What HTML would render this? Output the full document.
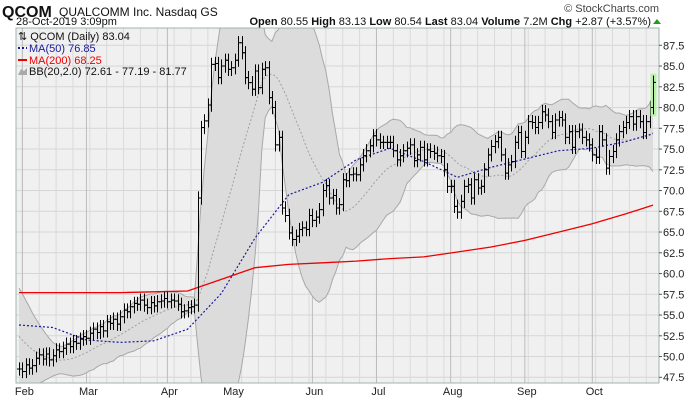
<!DOCTYPE html>
<html><head><meta charset="utf-8"><style>
html,body{margin:0;padding:0;background:#fff;width:700px;height:400px;overflow:hidden;font-family:"Liberation Sans",sans-serif}
svg{display:block;position:absolute;left:0;top:0}
svg text{font-family:"Liberation Sans",sans-serif}
</style></head><body>
<svg id="chart" width="700" height="400" viewBox="0 0 700 400" overflow="hidden" xmlns="http://www.w3.org/2000/svg">
<text x="2" y="17" font-size="16" font-weight="bold" fill="#111">QCOM</text>
<text x="59" y="16" font-size="12" fill="#111">QUALCOMM Inc.  Nasdaq GS</text>
<text x="16" y="25" font-size="11" fill="#111">28-Oct-2019 3:09pm</text>
<text x="659" y="12" font-size="11" fill="#444" text-anchor="end">© StockCharts.com</text>
<text x="651" y="25" font-size="11" fill="#111" text-anchor="end"><tspan font-weight="bold">Open</tspan> 80.55  <tspan font-weight="bold">High</tspan> 83.13  <tspan font-weight="bold">Low</tspan> 80.54  <tspan font-weight="bold">Last</tspan> 83.04  <tspan font-weight="bold">Volume</tspan> 7.2M  <tspan font-weight="bold">Chg</tspan> +2.87 (+3.57%)</text>
<path d="M653 24 L657 19 L661 24 Z" fill="#1aa01a"/>
<rect x="16" y="28" width="643" height="355" fill="#f0f0f0"/>
<g id="grid"></g><g id="bands"></g><g id="lines"></g><g id="bars"></g>
<rect x="16" y="28" width="643" height="355" fill="none" stroke="#9fb5ad" stroke-width="1"/>
<g id="yaxis"></g><g id="xaxis"></g>
<g font-size="11">
<text x="18" y="40" fill="#111">⇅ QCOM (Daily) 83.04</text>
<line x1="18" y1="48" x2="27" y2="48" stroke="#1a1a9a" stroke-width="2" stroke-dasharray="2,2"/>
<text x="29" y="52" fill="#1a1a9a">MA(50) 76.85</text>
<line x1="18" y1="60" x2="27" y2="60" stroke="#e00" stroke-width="2"/>
<text x="29" y="64" fill="#e00">MA(200) 68.25</text>
<path d="M18 75 L21 69 L24 71 L27 68 L27 75Z" fill="#aaa"/>
<text x="29" y="75" fill="#111">BB(20,2.0) 72.61 - 77.19 - 81.77</text>
</g>
</svg>
<script>
const closes=[48.5,48.2,49.0,48.6,48.9,49.8,50.2,49.7,50.3,49.6,50.1,50.8,50.6,51.0,51.5,51.2,51.8,51.6,52.1,52.4,52.2,52.8,53.3,52.9,53.6,53.1,54.2,54.0,54.5,53.9,54.8,55.6,55.4,56.0,56.4,56.3,56.8,56.2,55.9,56.5,56.1,56.6,56.7,57.0,56.6,56.8,56.7,56.3,55.4,55.5,55.9,56.0,56.2,
69.1,77.6,78.4,80.3,85.2,85.3,83.6,85.0,85.7,84.6,84.8,85.7,87.8,86.6,83.6,83.0,82.2,84.4,82.4,84.6,84.8,81.2,80.0,75.5,76.4,67.9,67.0,64.9,64.1,64.5,65.3,65.5,65.3,67.0,66.4,66.8,67.7,70.0,70.6,69.1,69.4,67.9,68.3,71.3,71.2,71.9,72.0,71.9,73.1,74.2,74.8,75.4,76.6,76.1,75.8,75.8,75.8,75.8,74.8,73.7,74.2,74.8,75.1,75.5,73.6,74.3,
75.2,73.7,74.9,74.7,74.5,74.2,74.1,72.5,70.5,70.5,68.1,67.4,68.7,70.5,70.7,69.1,71.3,70.3,70.5,72.5,74.3,75.3,75.9,76.4,74.3,72.1,73.1,73.5,75.8,77.0,74.7,76.4,78.3,78.2,77.6,78.2,79.5,79.1,78.3,77.0,78.5,78.8,78.5,76.4,77.1,75.2,77.1,77.3,76.4,76.1,75.5,74.3,74.0,77.1,76.1,72.7,74.1,74.7,76.1,77.1,77.6,78.2,78.9,78.0,78.9,78.3,77.0,78.3,80.0,83.04];
const priorCloses=[57.5,57.0,56.5,56.0,55.0,54.5,54.0,53.5,53.0,52.5,52.0,51.5,51.0,50.5,50.0,49.5,49.0,48.7,48.5];
const maIndex=[0,10,20,30,40,50,60,70,80,90,100,110,120,130,140,150,160,170,180,188];
const ma50Values=[53.8,53.5,52.0,51.7,51.9,53.3,57.6,64.3,69.5,71.0,73.7,75.1,73.5,71.6,72.8,73.8,74.8,75.1,75.9,76.85];
const ma200Values=[57.7,57.7,57.7,57.7,57.8,57.9,59.3,60.7,61.1,61.3,61.5,61.8,62.0,62.6,63.2,64.0,65.0,66.0,67.2,68.25];
const yTicks=[47.5,50.0,52.5,55.0,57.5,60.0,62.5,65.0,67.5,70.0,72.5,75.0,77.5,80.0,82.5,85.0,87.5];
const monthLabels=["Feb","Mar","Apr","May","Jun","Jul","Aug","Sep","Oct"];
const monthBars=[1,20,44,63,87,106,128,150,170];

const NS="http://www.w3.org/2000/svg";
const L=16,R=659,T=28,B=383;
const n=closes.length;
const xs=i=>19+i*(653-19)/(n-1);
const ys=p=>45.3+(87.5-p)*8.3;
function mk(tag,attrs,parent){const e=document.createElementNS(NS,tag);for(const k in attrs)e.setAttribute(k,attrs[k]);document.getElementById(parent).appendChild(e);return e;}

const defs=document.createElementNS(NS,'defs');
defs.innerHTML='<clipPath id="pc"><rect x="16" y="28" width="643" height="355"/></clipPath>';
document.getElementById('chart').prepend(defs);
['bands','lines','bars'].forEach(g=>document.getElementById(g).setAttribute('clip-path','url(#pc)'));

yTicks.forEach(v=>{
  const y=ys(v);
  const g=mk('line',{x1:L,x2:R,y1:y,y2:y,stroke:'#d6d6d6','stroke-width':1},'grid');
  
  
  const t=mk('line',{x1:R,x2:R+3,y1:y,y2:y,stroke:'#555'},'yaxis');
  
  
  const lb=mk('text',{x:R+4,y:Math.min(y+4,381),'font-size':11,fill:'#222'},'yaxis');
  lb.textContent=v.toFixed(1);
  
  
});
for(let i=1;i<n;i+=5){
  const x=xs(i);
  const g=mk('line',{x1:x,x2:x,y1:T,y2:B,stroke:'#dadada'},'grid');
  
  
}
monthBars.forEach((b,k)=>{
  const x=xs(b);
  const g=mk('line',{x1:x,x2:x,y1:T,y2:B,stroke:'#bcbcbc'},'grid');
  
  
  const t=mk('text',{x:x+2,y:395,'font-size':11,fill:'#222','text-anchor':'middle'},'xaxis');
  t.textContent=monthLabels[k];
  
  
});

const all=priorCloses.concat(closes);
const up=[],lo=[],mid=[];
for(let i=0;i<n;i++){
  const w=all.slice(i,i+20);const m=w.reduce((a,b)=>a+b,0)/20;
  const sd=Math.sqrt(w.reduce((a,b)=>a+(b-m)*(b-m),0)/20);
  mid.push(m);up.push(m+2*sd);lo.push(m-2*sd);
}
let d='';
for(let i=0;i<n;i++)d+=(i?'L':'M')+xs(i).toFixed(1)+' '+ys(up[i]).toFixed(1);
for(let i=n-1;i>=0;i--)d+='L'+xs(i).toFixed(1)+' '+ys(lo[i]).toFixed(1);
const band=mk('path',{d:d+'Z',fill:'#dcdcdc',stroke:'none'},'bands');


function poly(vals,idx,attrs,name){
  let s='';vals.forEach((v,k)=>{s+=(k?'L':'M')+xs(idx?idx[k]:k).toFixed(1)+' '+ys(v).toFixed(1);});
  const p=mk('path',Object.assign({d:s,fill:'none'},attrs),'lines');
  
  
}
poly(up,null,{stroke:'#a8a8a8','stroke-width':1},'bb-upper');
poly(lo,null,{stroke:'#a8a8a8','stroke-width':1},'bb-lower');
poly(mid,null,{stroke:'#a0a0a0','stroke-width':1,'stroke-dasharray':'2,2'},'bb-middle');
poly(ma200Values,maIndex,{stroke:'#e00','stroke-width':1.3},'ma200-line');
poly(ma50Values,maIndex,{stroke:'#1a1a9a','stroke-width':1.2,'stroke-dasharray':'2,2'},'ma50-line');

for(let i=0;i<n;i++){
  const c=closes[i];
  const op=(i===0)?c:closes[i-1];
  const hi=Math.max(op,c)+0.8,lw=Math.min(op,c)-0.8;
  const x=Math.round(xs(i))+0.5;
  if(i===n-1){const hl=mk('rect',{x:x-3,y:ys(hi)-2,width:6,height:ys(lw)-ys(hi)+4,fill:'#b8f0a8'},'bars');
    
    }
  const g=mk('path',{d:`M${x} ${ys(hi)}V${ys(lw)}M${x-2.5} ${ys(op)}H${x}M${x} ${ys(c)}H${x+2.5}`,stroke:'#000','stroke-width':1,fill:'none'},'bars');
  
  
}
</script>
</body></html>
